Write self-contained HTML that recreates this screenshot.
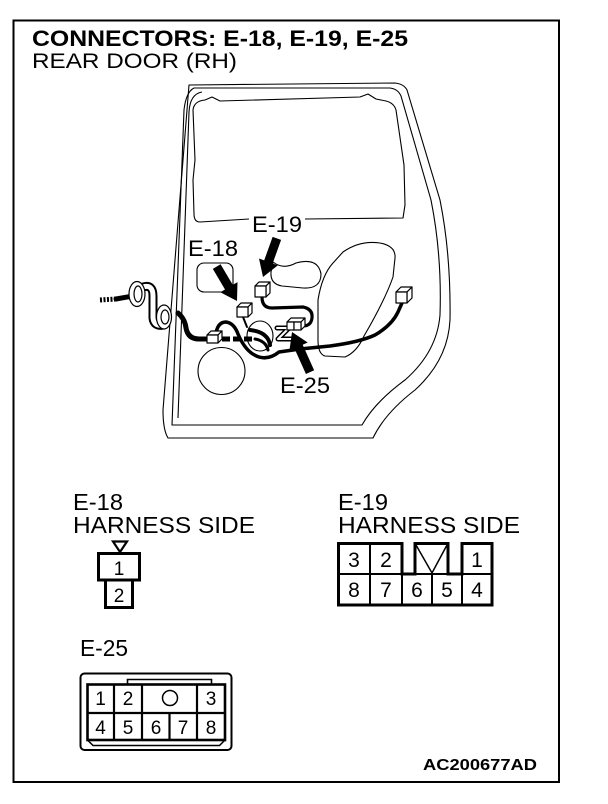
<!DOCTYPE html>
<html>
<head>
<meta charset="utf-8">
<style>
  html,body{margin:0;padding:0;background:#fff;}
  svg{display:block;}
  text{font-family:"Liberation Sans", Arial, sans-serif; fill:#000;}
</style>
</head>
<body>
<svg width="608" height="804" viewBox="0 0 608 804" xmlns="http://www.w3.org/2000/svg">
  <rect x="0" y="0" width="608" height="804" fill="#fff"/>
  <!-- frame -->
  <rect x="13.5" y="20.5" width="545.5" height="761.5" fill="none" stroke="#000" stroke-width="2"/>

  <!-- titles -->
  <text x="32" y="46" font-size="22" font-weight="bold" textLength="376" lengthAdjust="spacingAndGlyphs">CONNECTORS: E-18, E-19, E-25</text>
  <text x="32" y="68" font-size="21" textLength="205" lengthAdjust="spacingAndGlyphs">REAR DOOR (RH)</text>

  <!-- ===== DOOR ===== -->
  <g fill="none" stroke="#000" stroke-width="1.1" stroke-linejoin="round">
    <!-- outer edge -->
    <path d="M189,85 L395,83 Q404,84 407,90 L440,200 Q451,255 450,320 Q448,360 415,390 Q385,413 373,438 L168,438 Q163,430 163,410 L189,85 Z"/>
    <!-- inner edge -->
    <path d="M194,88 L390,88 Q398,89 401,96 L431,200 Q442,255 440,315 Q437,352 405,380 Q375,402 362,425 L172,425 L184,110 Q186,92 194,88 Z"/>
    <!-- panel line -->
    <path d="M202,92 Q190,94 189,112 L178,418"/>
    <!-- window -->
    <path d="M205,100 L212,97 L220,101 L360,97 L368,94 L376,99 L386,101 Q394,103 396,110 L404,165 L405,205 L403,218 L305,219"/>
    <path d="M249,219 L200,222 Q194,222 194,214 L193,180 L195,160 L193,110 Q194,101 205,100"/>
    <!-- rounded rect -->
    <rect x="197" y="263" width="36" height="29" rx="7" ry="7"/>
    <!-- big circle -->
    <circle cx="221.5" cy="371" r="23.5"/>
    <!-- blob near E-19 -->
    <path d="M273,262 Q283,270 296,263 Q318,257 321,274 Q321,289 303,288 L282,286 Q270,284 271,272 Z"/>
    <!-- right inner shape -->
    <path d="M343,252 Q360,240 380,243 Q396,246 395,258 L393,277 Q385,300 364,336 Q357,352 345,357 L325,356 Q318,354 318,340 L318,300 Q322,275 333,263 Z"/>
    <!-- thin loop -->
    <ellipse cx="260" cy="336" rx="13" ry="15"/>
  </g>

  <!-- wires -->
  <g fill="none" stroke="#000" stroke-linecap="round" stroke-linejoin="round">
    <!-- left incoming -->
    <path d="M100,300 L116,299" stroke-width="5" stroke-dasharray="2,1.5" stroke-linecap="butt"/>
    <path d="M116,299 L133,296" stroke-width="5"/>
    <!-- tube (outlined) -->
    <path d="M143,287 Q153,284 153,296 L153,318 Q154,327 164,325" stroke-width="9"/>
    <path d="M143,287 Q153,284 153,296 L153,318 Q154,327 164,325" stroke-width="5" stroke="#fff"/>
    <!-- thick main wire -->
    <path d="M178,313 Q185,319 186,328 Q188,339 199,339 L208,339" stroke-width="5"/>
    <path d="M222,339 L254,339" stroke-width="5" stroke-dasharray="8,3" stroke-linecap="butt"/>
    <!-- loop from connector -->
    <path d="M216,333 Q218,322 226,322 Q234,323 238,334 Q246,353 259,357 Q269,360 279,352 L300,349 L330,346 Q360,342 375,335 Q392,325 398,312 L402,303" stroke-width="3.5"/>
    <!-- thick arc inside loop -->
    <path d="M250,330 Q268,332 270,345" stroke-width="4"/>
    <path d="M255,339 Q266,341 268,350" stroke-width="3"/>
    <!-- E-19 wire -->
    <path d="M262,297 Q262,308 272,308 L303,307 Q313,309 312,318 Q311,326 303,326" stroke-width="3.2"/>
    <!-- E-18 wire -->
    <path d="M243,317 L247,327" stroke-width="2"/>
    <!-- Z shape outlined -->
    <path d="M277,328 L289,328 L278,339 L292,339" stroke-width="5"/>
    <path d="M277,328 L289,328 L278,339 L292,339" stroke-width="2" stroke="#fff"/>
  </g>

  <!-- grommets -->
  <g fill="#fff" stroke="#000" stroke-width="1.2">
    <ellipse cx="137" cy="294" rx="8" ry="12.5"/>
    <ellipse cx="138" cy="294" rx="4" ry="8"/>
    <ellipse cx="164" cy="317" rx="7.5" ry="12"/>
    <ellipse cx="165" cy="317" rx="4" ry="7"/>
  </g>
  <path d="M143,287 Q153,284 153,296" fill="none" stroke="#000" stroke-width="0"/>

  <!-- connector cubes -->
  <g fill="#fff" stroke="#000" stroke-width="1.2" stroke-linejoin="round">
    <!-- E-19 -->
    <path d="M255,286 L259,282 L270,282 L266,286 Z"/><path d="M266,286 L270,282 L270,293 L266,297 Z"/><rect x="255" y="286" width="11" height="11"/>
    <!-- E-18 -->
    <path d="M237,307 L241,303 L252,303 L248,307 Z"/><path d="M248,307 L252,303 L252,313 L248,317 Z"/><rect x="237" y="307" width="11" height="10"/>
    <!-- left connector -->
    <path d="M207,335 L211,331 L222,331 L218,335 Z"/><path d="M218,335 L222,331 L222,339 L218,343 Z"/><rect x="207" y="335" width="11" height="8"/>
    <!-- E-25 double -->
    <path d="M287,322 L291,318 L305,318 L301,322 Z"/><path d="M301,322 L305,318 L305,326 L301,330 Z"/><rect x="287" y="322" width="7" height="8"/><rect x="294" y="322" width="7" height="8"/>
    <!-- right connector -->
    <path d="M396,292 L401,287 L412,287 L407,292 Z"/><path d="M407,292 L412,287 L412,298 L407,303 Z"/><rect x="396" y="292" width="11" height="11"/>
  </g>

  <!-- arrows -->
  <g fill="#000">
    <polygon transform="translate(263,277) rotate(109.75)" points="-41,-4.5 -16,-4.5 -16,-10 0,0 -16,10 -16,4.5 -41,4.5"/>
    <polygon transform="translate(237,301) rotate(59.5)" points="-40,-4.5 -16,-4.5 -16,-10 0,0 -16,10 -16,4.5 -40,4.5"/>
    <polygon transform="translate(292,332) rotate(-114.2)" points="-44,-4.5 -16,-4.5 -16,-10 0,0 -16,10 -16,4.5 -44,4.5"/>
  </g>

  <!-- door labels -->
  <text x="252" y="232" font-size="22" textLength="50" lengthAdjust="spacingAndGlyphs">E-19</text>
  <text x="188" y="256" font-size="22" textLength="50" lengthAdjust="spacingAndGlyphs">E-18</text>
  <text x="280" y="393" font-size="22" textLength="50" lengthAdjust="spacingAndGlyphs">E-25</text>

  <!-- ===== E-18 connector ===== -->
  <text x="73" y="510" font-size="23" textLength="50" lengthAdjust="spacingAndGlyphs">E-18</text>
  <text x="73" y="533" font-size="23" textLength="182" lengthAdjust="spacingAndGlyphs">HARNESS SIDE</text>
  <polygon points="113,541.5 127,541.5 120,552" fill="#fff" stroke="#000" stroke-width="2.2" stroke-linejoin="miter"/>
  <rect x="98.5" y="553.5" width="41" height="26.5" fill="none" stroke="#000" stroke-width="3"/>
  <path d="M105.5,580 L105.5,607.5 L132.5,607.5 L132.5,580" fill="none" stroke="#000" stroke-width="3"/>
  <text x="119" y="575" font-size="19" text-anchor="middle">1</text>
  <text x="119" y="602" font-size="19" text-anchor="middle">2</text>

  <!-- ===== E-19 connector ===== -->
  <text x="338" y="510" font-size="23" textLength="50" lengthAdjust="spacingAndGlyphs">E-19</text>
  <text x="338" y="533" font-size="23" textLength="182" lengthAdjust="spacingAndGlyphs">HARNESS SIDE</text>
  <path d="M338.5,543.5 L402,543.5 L402,574 L415,574 L415,543.5 L448,543.5 L448,574 L462,574 L462,543.5 L492,543.5 L492,605 L338.5,605 Z" fill="none" stroke="#000" stroke-width="3" stroke-linejoin="miter"/>
  <g stroke="#000" stroke-width="2" fill="none">
    <line x1="338.5" y1="574" x2="492" y2="574"/>
    <line x1="370" y1="543.5" x2="370" y2="605"/>
    <line x1="402" y1="574" x2="402" y2="605"/>
    <line x1="432" y1="574" x2="432" y2="605"/>
    <line x1="462" y1="574" x2="462" y2="605"/>
    <path d="M416,545 L432,573 L447,545" stroke-width="1.5"/>
  </g>
  <g font-size="21" text-anchor="middle">
    <text x="354" y="567">3</text>
    <text x="386" y="567">2</text>
    <text x="477" y="567">1</text>
    <text x="354" y="597">8</text>
    <text x="386" y="597">7</text>
    <text x="417" y="597">6</text>
    <text x="447" y="597">5</text>
    <text x="477" y="597">4</text>
  </g>

  <!-- ===== E-25 connector ===== -->
  <text x="80" y="656" font-size="23" textLength="48" lengthAdjust="spacingAndGlyphs">E-25</text>
  <rect x="80.5" y="673.5" width="151" height="76.5" rx="4" ry="4" fill="none" stroke="#000" stroke-width="2"/>
  <path d="M127.5,684 L127.5,679.5 L211.5,679.5 L211.5,684" fill="none" stroke="#000" stroke-width="1.6"/>
  <rect x="87.5" y="684.5" width="137.5" height="55.5" fill="none" stroke="#000" stroke-width="2.6"/>
  <g stroke="#000" stroke-width="2.2" fill="none">
    <line x1="87.5" y1="713" x2="225" y2="713"/>
    <line x1="114" y1="684.5" x2="114" y2="740"/>
    <line x1="142" y1="684.5" x2="142" y2="740"/>
    <line x1="169.5" y1="713" x2="169.5" y2="740"/>
    <line x1="197" y1="684.5" x2="197" y2="740"/>
    <circle cx="170" cy="698" r="7.5" stroke-width="1.5"/>
    <path d="M87.5,740 L93,745.5 L219.5,745.5 L225,740" stroke-width="1.5"/>
  </g>
  <g font-size="19" text-anchor="middle">
    <text x="100.5" y="705">1</text>
    <text x="128" y="705">2</text>
    <text x="211" y="705">3</text>
    <text x="100.5" y="734">4</text>
    <text x="128" y="734">5</text>
    <text x="156" y="734">6</text>
    <text x="183" y="734">7</text>
    <text x="211" y="734">8</text>
  </g>

  <!-- figure code -->
  <text x="423" y="770" font-size="16" font-weight="bold" textLength="114" lengthAdjust="spacingAndGlyphs">AC200677AD</text>
</svg>
</body>
</html>
